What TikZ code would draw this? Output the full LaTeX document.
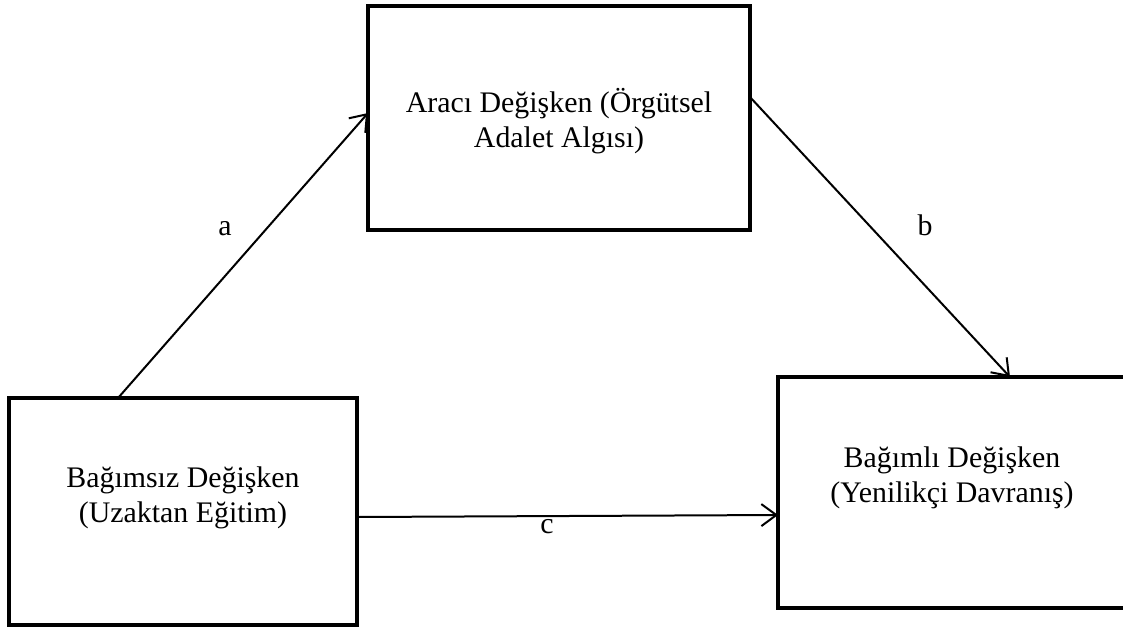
\documentclass[tikz,border=0pt]{standalone}
\usepackage{fontspec}
\setmainfont{Liberation Serif}
\usetikzlibrary{arrows.meta}
\tikzset{
  kutu/.style={draw, line width=0.08cm, inner sep=0pt, outer sep=0pt},
  ok/.style={line width=0.04cm, -{Straight Barb[length=0.3cm,width=0.44cm,line width=0.04cm]}},
  yazi/.style={align=center, anchor=base, inner sep=0pt, font=\fontsize{17}{19.9}\selectfont},
  harf/.style={anchor=base, inner sep=0pt, font=\fontsize{17}{19.9}\selectfont}
}
\begin{document}
\begin{tikzpicture}[x=0.02cm,y=-0.02cm]
\useasboundingbox (0,0) rectangle (1123,630);
\node[kutu, minimum width=6.96cm, minimum height=4.54cm] (bagimsiz) at (183,511.5) {};
\node[kutu, minimum width=7.64cm, minimum height=4.48cm] (araci) at (559,118) {};
\node[kutu, minimum width=6.96cm, minimum height=4.62cm] (bagimli) at (952,492.5) {};

\node[yazi] (t1) at ([yshift=-0.21cm]bagimsiz.center) {Bağımsız Değişken\\(Uzaktan Eğitim)};
\node[yazi] (t2) at ([yshift=-0.58cm]araci.center) {Aracı Değişken (Örgütsel\\Adalet Algısı)};
\node[yazi] (t3) at ([yshift=-0.19cm]bagimli.center) {Bağımlı Değişken\\(Yenilikçi Davranış)};

\draw[ok] ([xshift=2.18cm]bagimsiz.north west) -- ([yshift=-2.14cm]araci.north west);
\draw[ok] ([yshift=-1.82cm]araci.north east) -- ([xshift=4.64cm]bagimli.north west);
\draw[ok] ([yshift=-0.11cm]bagimsiz.east) -- ([yshift=-0.45cm]bagimli.west);

\node[harf] (a) at (225,235) {a};
\node[harf] (b) at (925,235) {b};
\node[harf] (c) at (547,533) {c};
\end{tikzpicture}
\end{document}
